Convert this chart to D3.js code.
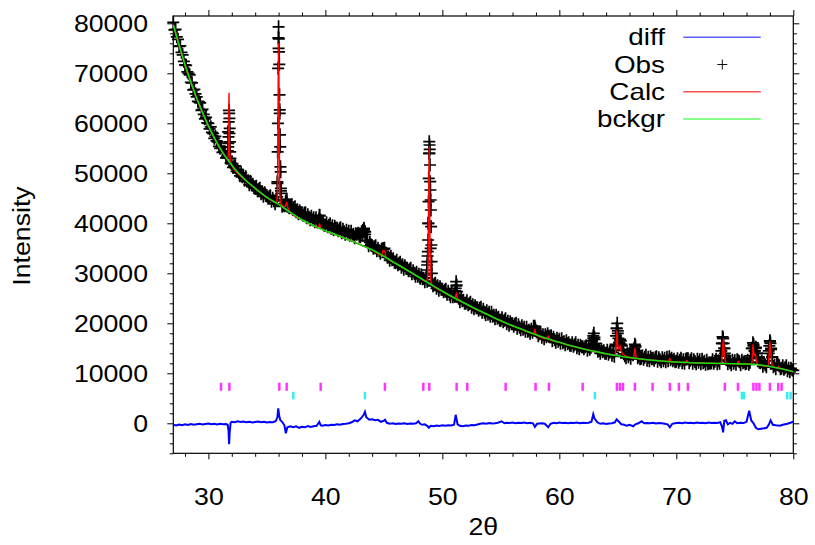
<!DOCTYPE html>
<html>
<head>
<meta charset="utf-8">
<script src="https://cdnjs.cloudflare.com/ajax/libs/d3/7.8.5/d3.min.js"></script>
<style>
body { margin: 0; background: #fff; }
text { font-family: "Liberation Sans", Arial, sans-serif; fill: #000; }
</style>
</head>
<body>
<svg id="chart"></svg>
<script>
// observed pattern on a regular 2theta grid (one row per degree, 27.0 .. 80.0)
let obsStart = 27
let obsStep = 0.1
let obsCounts = [
  80200, 78700, 78800, 77300, 76800, 75400, 75500, 74200, 73700, 72400,
  71700, 71600, 70300, 70000, 69700, 68200, 68100, 66700, 66800, 65900,
  65300, 64400, 64300, 64100, 62600, 62800, 61800, 60900, 61200, 60100,
  60000, 58900, 59300, 58200, 58000, 57000, 57400, 56500, 56300, 55400,
  55000, 55300, 54200, 54300, 54300, 53100, 53400, 56000, 58000, 52100,
  51900, 51200, 51500, 51500, 50400, 50800, 50100, 49500, 50100, 49300,
  49500, 48600, 49300, 48400, 48500, 47700, 48400, 47700, 47800, 47100,
  47000, 47400, 46500, 46800, 47000, 45900, 46300, 45400, 46100, 45600,
  45500, 45000, 45300, 45500, 44400, 45000, 44500, 43900, 44700, 48000,
  75000, 62000, 46500, 43400, 43600, 43500, 44300, 44800, 43700, 43100,
  43200, 43700, 42800, 43100, 43300, 42300, 42700, 41900, 42500, 42100,
  42100, 41600, 42000, 42100, 41100, 41700, 41200, 40700, 41400, 40700,
  41100, 40300, 41100, 40300, 40500, 41500, 40600, 40000, 40200, 39600,
  39600, 40100, 39300, 39600, 39900, 39000, 39500, 38700, 39400, 39000,
  39000, 38500, 38900, 39100, 38100, 38800, 38300, 37800, 38600, 37900,
  38400, 37600, 38400, 37600, 37800, 37100, 37900, 37800, 38000, 37400,
  37300, 38300, 38200, 38700, 38300, 36600, 36500, 35500, 36200, 35700,
  35500, 35000, 35300, 35500, 34500, 35000, 34500, 34000, 34800, 34800,
  34900, 34100, 34000, 33200, 33300, 32600, 33400, 32700, 32900, 32200,
  32100, 32600, 31700, 32000, 32200, 31200, 31700, 30800, 31500, 31000,
  31000, 30500, 30800, 31000, 29900, 30500, 30000, 29400, 30200, 29400,
  29800, 29000, 29700, 28900, 29000, 28300, 29100, 28400, 40000, 54000,
  35000, 28400, 27500, 27800, 28000, 27000, 27500, 26600, 27300, 26800,
  26800, 26300, 26600, 26800, 25800, 26400, 25800, 25300, 26100, 25300,
  25700, 26500, 27500, 25300, 25000, 24300, 25100, 24500, 24600, 24000,
  24000, 24500, 23700, 23900, 24200, 23200, 23700, 22900, 23500, 23100,
  23100, 22600, 23000, 23200, 22200, 22800, 22200, 21700, 22500, 21800,
  22200, 21400, 22200, 21400, 21600, 20900, 21600, 21000, 21200, 20600,
  20600, 21100, 20300, 20600, 20900, 19900, 20400, 19600, 20300, 19900,
  19900, 19400, 19800, 20000, 19000, 19700, 19200, 18700, 19500, 18800,
  19200, 18400, 19200, 18400, 18600, 18000, 18800, 18200, 19400, 19000,
  18500, 18300, 17500, 17900, 18200, 17200, 17700, 16900, 17700, 17300,
  17900, 17400, 17300, 17500, 16500, 17200, 16700, 16200, 17000, 16400,
  16800, 16000, 16900, 16100, 16300, 15700, 16500, 15900, 16100, 15600,
  15600, 16100, 15400, 15700, 16100, 15100, 15600, 14900, 15600, 15300,
  15300, 14900, 15300, 15500, 14600, 15300, 14800, 15200, 16500, 17500,
  16800, 15500, 15100, 14400, 14600, 14000, 14800, 14300, 14500, 14000,
  14000, 14600, 13800, 14200, 14500, 13600, 14200, 13400, 15800, 19000,
  18000, 16200, 16800, 15800, 14600, 13900, 13500, 13100, 13900, 13300,
  13800, 13000, 13900, 13700, 15000, 15500, 14200, 13100, 13400, 12900,
  13000, 13500, 12800, 13200, 13600, 12600, 13200, 12500, 13300, 12900,
  13000, 12600, 13100, 13300, 12400, 13100, 12700, 12300, 13100, 12500,
  13000, 12300, 13200, 12500, 13300, 12700, 13000, 12500, 12800, 12300,
  12400, 12900, 12200, 12600, 13000, 12100, 12700, 12000, 12800, 12900,
  12900, 12100, 12600, 12900, 12000, 12700, 12300, 11900, 12800, 12200,
  12700, 11900, 12800, 12100, 12400, 11800, 12600, 11900, 12100, 12000,
  12100, 12700, 12000, 12400, 12800, 11900, 12500, 12000, 13500, 16000,
  17000, 15000, 13500, 12700, 11900, 12500, 12100, 11700, 12600, 12000,
  12500, 11800, 12700, 12500, 12300, 11700, 12600, 12100, 12300, 11900,
  12000, 12600, 11800, 12200, 13000, 15000, 15800, 14500, 15200, 14000,
  13000, 12200, 12100, 12400, 11400, 12100, 11700, 11300, 12500, 14500,
  16300, 15000, 13200, 11300, 11600, 10900, 11800, 11700, 11500, 10900,
  11000, 11500, 10800, 11100, 11500, 10500, 11000, 10300, 11000, 10700,
  10600
]

// extra observed points on the sharp reflections [2theta, counts]
let obsPeakPoints = [
  [31.66, 54500], [31.68, 58300], [31.70, 55300], [31.72, 57300], [31.74, 60300], [31.76, 62600],
  [31.78, 62000], [31.80, 61000], [31.82, 59000], [31.84, 56300], [31.86, 54300], [31.88, 53000],
  [35.88, 45300], [35.90, 48300], [35.92, 54300], [35.94, 60000], [35.96, 71000], [35.98, 77100],
  [36.00, 79300], [36.02, 76900], [36.04, 74300], [36.06, 71800], [36.08, 65700], [36.10, 62700],
  [36.12, 57700], [36.14, 55300], [36.16, 51300], [36.18, 50300], [36.20, 47000], [36.22, 46000],
  [36.62, 43600], [36.66, 44500], [36.70, 44300], [36.74, 43400],
  [39.46, 40800], [39.50, 41600], [39.54, 40600],
  [43.15, 37900], [43.20, 38600], [43.30, 39000], [43.35, 38400], [43.40, 37800],
  [44.90, 34900], [45.05, 35000],
  [48.66, 29660], [48.68, 30660], [48.70, 31660], [48.72, 32320], [48.74, 33460], [48.76, 34320],
  [48.78, 36660], [48.80, 40000], [48.82, 44320], [48.84, 49000], [48.86, 54000], [48.88, 56320],
  [48.90, 55660], [48.92, 54800], [48.94, 51660], [48.96, 48320], [48.98, 46660], [49.00, 44660],
  [49.02, 42660], [49.04, 39320], [49.06, 35660], [49.08, 32320], [49.10, 30000],
  [51.10, 25660], [51.14, 27000], [51.18, 28320], [51.22, 27660], [51.26, 26320],
  [57.85, 19000], [57.90, 19400], [57.95, 18900],
  [62.85, 15800], [62.90, 17000], [62.95, 18000], [63.00, 17200], [63.05, 16000],
  [64.80, 15500], [64.85, 17500], [64.90, 19000], [64.95, 20000], [65.00, 18500], [65.05, 17000],
  [65.15, 16000], [65.25, 16500], [65.35, 15500], [65.45, 14800],
  [66.40, 14800], [66.45, 15800], [66.50, 15300], [66.55, 14500],
  [73.85, 14500], [73.90, 16000], [73.95, 17300], [74.00, 17000], [74.05, 16000], [74.10, 15000], [74.15, 14000],
  [76.35, 13500], [76.45, 15000], [76.55, 16100], [76.60, 15500], [76.70, 14500], [76.80, 15000],
  [76.90, 14000], [77.00, 13300],
  [77.90, 14000], [77.95, 15500], [78.00, 16500], [78.05, 16000], [78.10, 14800], [78.20, 13300]
]

// background
let bckgrTheta = [27, 28, 29, 30, 31, 32, 33, 34, 35, 36, 37, 38, 39, 40, 41, 42, 43, 44, 45, 46, 47, 48, 49, 50, 51, 52, 53,
  54, 55, 56, 57, 58, 59, 60, 61, 62, 63, 64, 65, 66, 67, 68, 69, 70, 71, 72, 73, 74, 75, 76, 77, 78, 79, 80]
let bckgrCounts = [79700, 71700, 65000, 59500, 55000, 51600, 49000, 47000, 45200, 43800, 42200, 40700, 39500, 38500,
  37600, 36700, 35700, 34700, 33400, 32000, 30600, 29200, 27800, 26400, 25100, 23900, 22700, 21600, 20500, 19500,
  18600, 17700, 16900, 16200, 15500, 14900, 14400, 13900, 13500, 13150, 12850, 12600, 12400, 12250, 12150, 12050,
  12000, 11950, 11900, 11850, 11700, 11350, 10900, 10300]

// calculated profile [2theta, counts]
let calcPoints = [
  [27, 79700], [28, 71700], [29, 65000], [30, 59500], [31, 55000], [31.5, 53200], [31.65, 52800], [31.7, 54000],
  [31.73, 58000], [31.76, 66000], [31.79, 58000], [31.82, 54000], [31.88, 52600], [32, 51600], [33, 49000],
  [34, 47000], [35, 45200], [35.8, 44100], [35.88, 45000], [35.92, 50000], [35.97, 68000], [36.0, 76000],
  [36.03, 68000], [36.08, 50000], [36.12, 45000], [36.2, 43900], [36.55, 43300], [36.65, 44000], [36.7, 44200],
  [36.75, 43500], [36.85, 42800], [37, 42200], [38, 40700], [39, 39500], [39.4, 39100], [39.5, 39900], [39.6, 39000],
  [40, 38500], [41, 37600], [42, 36700], [43, 35700], [44, 34700], [44.85, 33600], [44.9, 34500], [45.1, 34500],
  [45.15, 33350], [46, 32000], [47, 30600], [48, 29200], [48.6, 28400], [48.75, 29500], [48.82, 42000],
  [48.87, 55300], [48.92, 42000], [48.98, 29500], [49.1, 27700], [50, 26400], [51, 25100], [51.1, 25000],
  [51.2, 26100], [51.3, 24900], [52, 23900], [53, 22700], [54, 21600], [55, 20500], [56, 19500], [57, 18600],
  [57.8, 17900], [57.9, 18800], [58.0, 17800], [58.95, 16950], [59.05, 17500], [59.15, 16850], [60, 16200],
  [61, 15500], [62, 14900], [63, 14400], [64, 13900], [64.75, 13600], [64.85, 15500], [64.92, 18600], [65.0, 15500],
  [65.1, 14800], [65.2, 15600], [65.28, 14500], [65.45, 13800], [66, 13150], [66.35, 13050], [66.46, 15000],
  [66.58, 13000], [67, 12850], [68, 12600], [69, 12400], [69.35, 12350], [69.45, 13000], [69.55, 12300],
  [70, 12250], [70.8, 12150], [70.9, 12600], [71.0, 12150], [72, 12050], [73, 12000], [73.85, 11950],
  [73.95, 14500], [74.02, 16900], [74.1, 14000], [74.2, 12500], [74.3, 11950], [75.2, 11900], [75.3, 12400],
  [75.4, 11900], [76, 11850], [76.45, 11800], [76.55, 15800], [76.65, 13500], [76.75, 13800], [76.85, 12400],
  [77, 11700], [77.85, 11400], [77.95, 14500], [78.0, 16300], [78.08, 14000], [78.2, 11500], [78.7, 11000],
  [78.75, 11400], [78.8, 11000], [79, 10900], [80, 10300]
]

// difference curve [2theta, counts]
let diffPoints = [
  [27, -300], [27.25, -450], [27.5, -250], [27.75, -400], [28, -200], [28.25, -350], [28.5, -150], [28.75, -300],
  [29, -200], [29.25, -100], [29.5, -250], [29.75, -150], [30, -50], [30.25, -200], [30.5, -100], [30.75, -250],
  [31, -100], [31.25, -200], [31.5, -150], [31.65, -300], [31.72, -1500], [31.77, -4200], [31.82, -1800],
  [31.9, 100], [32, 300], [32.25, 200], [32.5, 400], [32.75, 250], [33, 350], [33.25, 200], [33.5, 300],
  [33.75, 150], [34, 250], [34.25, 350], [34.5, 200], [34.75, 300], [35, 150], [35.25, 250], [35.5, 200],
  [35.75, 400], [35.9, 1200], [35.97, 3000], [36.05, 1500], [36.15, 600], [36.3, 300], [36.5, -400],
  [36.62, -2000], [36.75, -800], [37, -600], [37.25, -800], [37.5, -600], [37.75, -900], [38, -700],
  [38.25, -800], [38.5, -550], [38.75, -750], [39, -600], [39.25, -500], [39.48, 300], [39.6, -400],
  [39.75, -500], [40, -350], [40.25, -450], [40.5, -300], [40.75, -350], [41, -200], [41.25, -300],
  [41.5, -150], [41.75, -100], [42, 0], [42.25, 200], [42.5, 600], [42.75, 400], [43, 900], [43.25, 1600],
  [43.38, 2300], [43.5, 1200], [43.75, 700], [44, 800], [44.25, 600], [44.5, 700], [44.75, 300], [45, 500],
  [45.1, 700], [45.25, 100], [45.5, -100], [45.75, 0], [46, -150], [46.25, -50], [46.5, -100], [46.75, 0],
  [47, -150], [47.25, -50], [47.5, -100], [47.75, 0], [47.95, 400], [48.1, -100], [48.3, -300], [48.5, -200],
  [48.75, -600], [48.85, -900], [49, -500], [49.25, -600], [49.5, -450], [49.75, -550], [50, -400],
  [50.25, -500], [50.5, -400], [50.75, -450], [51, -300], [51.14, 1700], [51.3, -200], [51.5, -500],
  [51.75, -600], [52, -450], [52.25, -500], [52.5, -350], [52.75, -400], [53, -250], [53.25, -100], [53.5, 0],
  [53.75, -100], [54, 50], [54.25, -50], [54.5, 0], [54.75, 100], [55.07, 400], [55.3, 0], [55.5, 100],
  [55.75, 50], [56, 150], [56.25, 0], [56.5, 100], [56.75, 50], [57, 150], [57.25, 0], [57.5, 100], [57.75, 0],
  [57.91, -700], [58.1, -100], [58.5, 0], [58.75, -100], [59.05, -800], [59.25, -100], [59.5, 100], [59.75, 0],
  [60, 150], [60.25, 50], [60.5, 100], [60.75, 0], [61, 100], [61.25, 50], [61.5, 150], [61.75, 0], [62, 100],
  [62.25, 50], [62.5, 100], [62.75, 300], [62.9, 1800], [63.0, 1000], [63.25, 200], [63.5, -100], [63.75, 0],
  [64, -150], [64.25, -50], [64.5, 0], [64.75, 200], [64.9, 800], [65.1, 300], [65.3, -200], [65.55, -300],
  [65.75, -500], [66, -300], [66.32, -600], [66.5, -200], [66.75, 0], [67.03, 400], [67.25, 0], [67.5, 50],
  [67.75, 0], [68, 100], [68.25, -50], [68.5, 50], [68.75, 0], [69, -100], [69.25, -200], [69.45, -800],
  [69.65, -100], [70, 50], [70.25, 100], [70.5, 0], [70.75, 150], [71, 50], [71.25, 100], [71.5, 0],
  [71.75, 150], [72, 50], [72.25, 100], [72.5, 0], [72.75, 150], [73, 50], [73.25, 100], [73.5, 50],
  [73.75, 200], [73.9, -600], [74.0, -1800], [74.1, 500], [74.24, 600], [74.4, -200], [74.6, 100],
  [74.8, -100], [75.0, 400], [75.2, 0], [75.5, 100], [75.75, 50], [76.0, 300], [76.23, 2500], [76.4, 600],
  [76.6, 0], [76.8, -900], [77.0, -1200], [77.25, -1100], [77.5, -1000], [77.72, -900], [77.9, -300],
  [78.06, 600], [78.25, -300], [78.5, -400], [78.85, -500], [79.1, -300], [79.5, -100], [79.75, 100], [80, 300]
]

// reflection positions of the two phases
let phase1Ticks = [31.08, 31.79, 36.06, 36.69, 39.60, 45.09, 48.37, 48.88, 51.22, 52.13, 55.41, 57.97, 59.11,
  61.99, 64.92, 65.18, 65.44, 66.46, 67.97, 69.45, 70.22, 70.99, 74.15, 75.27, 76.59, 76.85, 77.10, 78.0,
  78.71, 79.0]
let phase2Ticks = [37.26, 43.38, 63.04, 75.61, 75.78, 79.48, 79.77]

let xTicks = [30, 40, 50, 60, 70, 80]
let yTicks = [0, 10000, 20000, 30000, 40000, 50000, 60000, 70000, 80000]
let legendLabels = ["diff", "Obs", "Calc", "bckgr"]

let width = 815
let height = 545
let plotLeft = 173.3, plotRight = 793.3, plotTop = 16, plotBottom = 453.3
let stretch = "scale(1.16,1)"

let svg = d3.select("#chart").attr("width", width).attr("height", height)

let xScale = d3.scaleLinear().domain([27, 80]).range([plotLeft, plotRight])
let yScale = d3.scaleLinear().domain([-6000, 81460]).range([plotBottom, plotTop])

let drawAxes = () => {
    let xMinor = d3.range(28, 80, 2).filter(d => d % 10 != 0)
    let yMinor = d3.range(-6000, 81000, 2000).filter(d => d % 10000 != 0)

    let addAxis = (axis, transform) => {
        let g = svg.append("g").attr("transform", transform).call(axis)
        g.select(".domain").remove()
        g.selectAll("line").attr("stroke", "#000").attr("stroke-width", 1)
        return g
    }

    let bx = addAxis(d3.axisBottom(xScale).tickValues(xTicks).tickSize(6).tickFormat(d3.format("d")), "translate(0," + plotBottom + ")")
    bx.selectAll("text").attr("y", 35).attr("dy", "0.71em").attr("font-size", 23).attr("transform", stretch)
    addAxis(d3.axisBottom(xScale).tickValues(xMinor).tickSize(3.5).tickFormat(""), "translate(0," + plotBottom + ")")
    addAxis(d3.axisTop(xScale).tickValues(xTicks).tickSize(6).tickFormat(""), "translate(0," + plotTop + ")")
    addAxis(d3.axisTop(xScale).tickValues(xMinor).tickSize(3.5).tickFormat(""), "translate(0," + plotTop + ")")

    let ly = addAxis(d3.axisLeft(yScale).tickValues(yTicks).tickSize(6).tickFormat(d3.format("d")), "translate(" + plotLeft + ",0)")
    ly.selectAll("text").attr("x", -21.8).attr("dy", "0.35em").attr("font-size", 23).attr("transform", stretch)
    addAxis(d3.axisLeft(yScale).tickValues(yMinor).tickSize(3.5).tickFormat(""), "translate(" + plotLeft + ",0)")
    addAxis(d3.axisRight(yScale).tickValues(yTicks).tickSize(6).tickFormat(""), "translate(" + plotRight + ",0)")
    addAxis(d3.axisRight(yScale).tickValues(yMinor).tickSize(3.5).tickFormat(""), "translate(" + plotRight + ",0)")

    svg.append("rect")
       .attr("x", plotLeft).attr("y", plotTop)
       .attr("width", plotRight - plotLeft).attr("height", plotBottom - plotTop)
       .attr("fill", "none").attr("stroke", "#000").attr("stroke-width", 1.2)

    svg.append("g").attr("transform", "translate(" + ((plotLeft + plotRight) / 2) + ",535)")
       .append("text").attr("text-anchor", "middle").attr("font-size", 23).attr("transform", stretch).text("2θ")

    svg.append("g").attr("transform", "translate(30,236) rotate(-90)")
       .append("text").attr("text-anchor", "middle").attr("font-size", 23).attr("transform", stretch).text("Intensity")
}

let drawData = () => {
    let line = d3.line().x(d => xScale(d[0])).y(d => yScale(d[1]))
    let smooth = d3.line().x(d => xScale(d[0])).y(d => yScale(d[1])).curve(d3.curveMonotoneX)

    svg.append("path").datum(diffPoints).attr("d", line)
       .attr("fill", "none").attr("stroke", "#0000ff").attr("stroke-width", 2)

    let obs = obsCounts.map((v, i) => [obsStart + i * obsStep, v]).concat(obsPeakPoints)
    svg.append("g").selectAll("path").data(obs).enter().append("path")
       .attr("d", "M-6,0H6M0,-6.5V6.5")
       .attr("transform", d => "translate(" + xScale(d[0]) + "," + yScale(d[1]) + ")")
       .attr("stroke", "#000").attr("stroke-width", 1.7).attr("fill", "none")

    svg.append("path").datum(calcPoints).attr("d", smooth)
       .attr("fill", "none").attr("stroke", "#ff0000").attr("stroke-width", 1.5)

    let bg = bckgrTheta.map((t, i) => [t, bckgrCounts[i]])
    svg.append("path").datum(bg).attr("d", smooth)
       .attr("fill", "none").attr("stroke", "#11dd11").attr("stroke-width", 1.6)

    svg.append("g").selectAll("line").data(phase1Ticks).enter().append("line")
       .attr("x1", d => xScale(d)).attr("x2", d => xScale(d))
       .attr("y1", yScale(8100)).attr("y2", yScale(6500))
       .attr("stroke", "#ff33ff").attr("stroke-width", 2.5)

    svg.append("g").selectAll("line").data(phase2Ticks).enter().append("line")
       .attr("x1", d => xScale(d)).attr("x2", d => xScale(d))
       .attr("y1", yScale(6300)).attr("y2", yScale(4800))
       .attr("stroke", "#33eeee").attr("stroke-width", 2.5)
}

let drawLegend = () => {
    let colors = ["#6060ff", null, "#ff5050", "#60ff60"]
    legendLabels.forEach((label, i) => {
        let y = 37.3 + i * 27.2
        svg.append("g").attr("transform", "translate(665," + (y + 8) + ")")
           .append("text").attr("text-anchor", "end").attr("font-size", 24).attr("transform", stretch).text(label)
        if (colors[i]) {
            svg.append("line").attr("x1", 683.3).attr("x2", 760.7).attr("y1", y).attr("y2", y)
               .attr("stroke", colors[i]).attr("stroke-width", 1.5)
        } else {
            svg.append("path").attr("d", "M-5,0H5M0,-5V5")
               .attr("transform", "translate(722.3," + y + ")")
               .attr("stroke", "#111").attr("stroke-width", 1).attr("fill", "none")
        }
    })
}

drawAxes()
drawData()
drawLegend()
</script>
</body>
</html>
